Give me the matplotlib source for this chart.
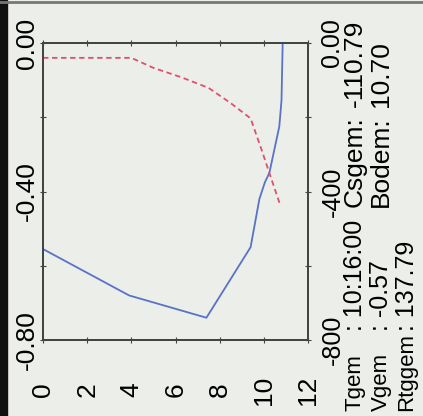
import matplotlib
matplotlib.use('Agg')
import matplotlib.pyplot as plt
from matplotlib.patches import Rectangle
from matplotlib.lines import Line2D

plt.rcParams['font.family'] = ['Liberation Sans', 'DejaVu Sans']

# blue curve (left axis)
depth_v = [0, 3.9, 7.4, 9.4, 9.8, 10.05, 10.25, 10.7, 10.8, 10.85, 10.85]
vel = [-0.555, -0.68, -0.74, -0.55, -0.42, -0.375, -0.35, -0.225, -0.155, -0.01, 0.0]

# red dashed curve (right axis)
depth_r = [0, 4.0, 5.0, 6.25, 7.5, 8.5, 9.4, 9.9, 10.25, 10.75]
val_r = [-40, -40, -67, -92, -121, -162, -203, -288, -350, -438]

xticks = [0, 2, 4, 6, 8, 10, 12]
lticks = [0, -0.2, -0.4, -0.6, -0.8]
llabels = ['0.00', '', '-0.40', '', '-0.80']
rticks = [0, -200, -400, -600, -800]
rlabels = ['0.00', '', '-400', '', '-800']

W, H = 423, 416
bg = '#eceeea'
fig = plt.figure(figsize=(W / 100, H / 100), dpi=100)
fig.patch.set_facecolor(bg)

ax = fig.add_axes([43 / W, (H - 340) / H, 265 / W, 297 / H])
ax.set_facecolor(bg)
ax.plot(depth_v, vel, color='#5a72c6', lw=1.3)
ax.set_xlim(0, 12)
ax.set_ylim(-0.8, 0)

ax2 = ax.twinx()
ax2.plot(depth_r, val_r, color='#e0506a', lw=1.3, dashes=(3, 2))
ax2.set_ylim(-800, 0)

for a in (ax, ax2):
    for s in a.spines.values():
        s.set_color('#444444')
        s.set_linewidth(1.4)

ax.set_xticks(xticks)
ax.set_xticklabels([str(v) for v in xticks], rotation=90, va='center', fontsize=19)
ax.set_yticks(lticks)
ax.set_yticklabels(llabels, rotation=90, va='center', fontsize=19)
ax.tick_params(axis='x', top=True, direction='inout', length=4, pad=34, color='#444444')
ax.tick_params(axis='y', direction='inout', length=4, pad=1, color='#444444')

ax2.set_yticks(rticks)
ax2.set_yticklabels(rlabels, rotation=90, va='center', fontsize=18)
ax2.tick_params(axis='y', direction='inout', length=4, pad=7, color='#444444')

# scan frame
fig.add_artist(Rectangle((0, 0), 7 / W, 1, transform=fig.transFigure, color='#111111'))
fig.add_artist(Line2D([0, 1], [1 - 2 / H, 1 - 2 / H], transform=fig.transFigure, color='#777777', lw=2))

# summary text
def put(txt, xpx, ypx, size):
    fig.text(xpx / W, (H - ypx) / H, txt, rotation=90, ha='center', va='bottom', fontsize=size)

put('Tgem', 355, 411, 16)
put(': 10:16:00', 355, 331, 18)
put('Csgem:', 355, 207, 19)
put('-110.79', 355, 107, 19)
put('Vgem', 381, 411, 16)
put(': -0.57', 381, 331, 18)
put('Bodem:', 381, 207, 19)
put('10.70', 381, 107, 19)
put('Rtggem', 407, 411, 16)
put(': 137.79', 407, 331, 18)

fig.savefig('out.png', dpi=100, facecolor=bg)
